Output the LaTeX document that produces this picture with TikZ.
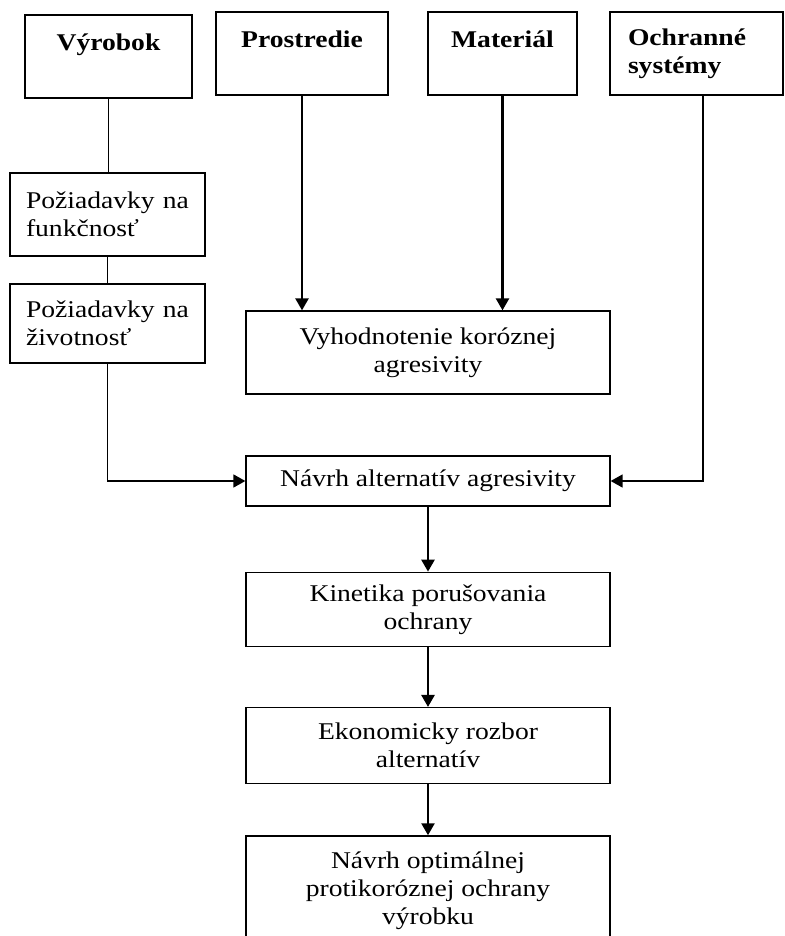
\documentclass[tikz,border=0pt]{standalone}
\usepackage{fontspec}
\setmainfont{Liberation Serif}[FakeStretch=1.15]
\usetikzlibrary{
    arrows.meta,
    positioning
}
\tikzset{
    every picture/.style = {
        > = {Triangle[length=12pt, width=13pt]}
    },
    box/.style = {
        draw,
        line width = 1.3pt,
        inner sep = 0pt,
        minimum width = 364pt,
        align = center,
        font = \fontsize{24}{28}\selectfont
    },
    headbox/.style = {
        box,
        minimum height = 83pt,
        font = \fontsize{24}{28}\selectfont\bfseries
    },
    reqbox/.style = {
        box,
        minimum width = 195pt,
        text width = 163pt,
        align = left
    },
    flow/.style = {
        ->,
        line width = 2.5pt
    },
    link/.style = {
        line width = 1pt
    }
}

\begin{document}
\begin{tikzpicture}[x = 1pt, y = -1pt]
    \clip (0,0) rectangle (784,936);
    % top row
    \node[headbox, minimum width = 167pt] (vyrobok) at (108.5,56.5) {Výrobok\\\mbox{}};
    \node[headbox, minimum width = 172pt] (prostredie) at (302,53.5) {Prostredie\\\mbox{}};
    \node[headbox, minimum width = 149pt] (material) at (502.5,53.5) {Materiál\\\mbox{}};
    \node[headbox, minimum width = 173pt, text width = 137pt, align = left] (ochranne) at (696.5,53.5) {Ochranné\\systémy};

    % requirements
    \node[reqbox, minimum height = 83pt] (funkcnost) at (107.5,214.5) {Požiadavky na\\funkčnosť};
    \node[reqbox, minimum height = 79pt] (zivotnost) at (107.5,323.5) {Požiadavky na\\životnosť};

    % main chain
    \node[box, minimum height = 83pt] (vyhodnotenie) at (428,352.5) {Vyhodnotenie koróznej\\agresivity};
    \node[box, minimum height = 50pt] (navrh) at (428,481) {Návrh alternatív agresivity};
    \node[box, minimum height = 74pt] (kinetika) [below = 65pt of navrh] {Kinetika porušovania\\ochrany};
    \node[box, minimum height = 76pt] (rozbor) [below = 60pt of kinetika] {Ekonomicky rozbor\\alternatív};
    \node[box, minimum height = 132pt] (optimum) [below = 51pt of rozbor] {Návrh optimálnej\\protikoróznej ochrany\\výrobku\\\mbox{}};

    \draw[link] (vyrobok.south) -- (vyrobok.south |- funkcnost.north);
    \draw[link] (funkcnost) -- (zivotnost);
    \draw[flow, line width = 1.6pt] (zivotnost) |- (navrh);
    \draw[flow] (prostredie.south) -- (prostredie.south |- vyhodnotenie.north);
    \draw[flow] (material.south) -- (material.south |- vyhodnotenie.north);
    \draw[flow, line width = 1.6pt] ([xshift = 6.5pt]ochranne.south) |- (navrh.east);
    \draw[flow] (navrh) -- (kinetika);
    \draw[flow] (kinetika) -- (rozbor);
    \draw[flow] (rozbor) -- (optimum);
\end{tikzpicture}
\end{document}
